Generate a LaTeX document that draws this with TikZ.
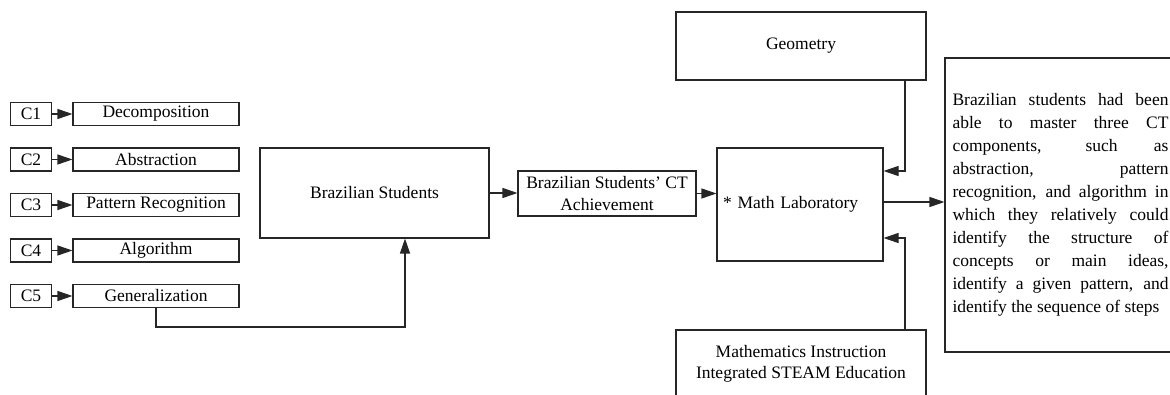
\documentclass[tikz,border=0pt]{standalone}
\usepackage{fontspec}
\setmainfont{Liberation Serif}
\usetikzlibrary{arrows.meta}
\begin{document}
\begin{tikzpicture}[x=1pt,y=-1pt,
  every node/.style={font=\fontsize{17.5}{23}\selectfont},
  box/.style={draw=black!85, line width=1.1pt, inner sep=0pt, align=center},
  arr/.style={draw=black!85, line width=1.1pt, -{Triangle[length=15pt,width=10pt]}}]
\useasboundingbox (0,0) rectangle (1170,395);

% competence labels and CT components
\foreach \i/\lab/\y in {1/Decomposition/114, 2/Abstraction/159.5, 3/Pattern Recognition/205, 4/Algorithm/250.5, 5/Generalization/296}{
  \node[box, minimum width=41, minimum height=23] (c\i) at (31,\y) {C\i};
  \node[box, minimum width=166, minimum height=23] (k\i) at (156,\y) {\lab};
  \draw[arr] (c\i.east) -- (k\i.west);
}

% main chain
\node[box, minimum width=229, minimum height=90] (bs) at (374.5,193) {Brazilian Students};
\node[box, minimum width=178, minimum height=45] (ach) at (607,193.5) {Brazilian Students’ CT\\[-1pt]Achievement};
\node[box, minimum width=166, minimum height=113, text width=154, inner xsep=6, align=left] (ml) at (800,204.5) {* Math Laboratory};
\node[box, minimum width=250, minimum height=68] (geo) at (801,46) {Geometry};
\node[box, minimum width=250, minimum height=68] (mi) at (801,364) {Mathematics Instruction\\[-2pt]Integrated STEAM Education};
\node[box, minimum width=231, minimum height=294, text width=216, align=justify] (rb) at (1060.5,205)
  {Brazilian students had been\linebreak
   able to master three CT\linebreak
   components, such as\linebreak
   abstraction, pattern\linebreak
   recognition, and algorithm in\linebreak
   which they relatively could\linebreak
   identify the structure of\linebreak
   concepts or main ideas,\linebreak
   identify a given pattern, and\linebreak
   identify the sequence of steps\par};

% connectors
\coordinate (j1) at (405,327);
\draw[arr] (k5.south) |- (j1) -- (j1 |- bs.south);
\draw[arr] (bs.east) -- (bs.east -| ach.west);
\draw[arr] (ach.east) -- (ach.east -| ml.west);
\coordinate (g1) at (905,171);
\draw[arr] (geo.south -| g1) -- (g1) -- (g1 -| ml.east);
\coordinate (m1) at (905,238);
\draw[arr] (mi.north -| m1) -- (m1) -- (m1 -| ml.east);
\coordinate (r1) at (883,202);
\draw[arr] (r1 -| ml.east) -- (r1 -| rb.west);
\end{tikzpicture}
\end{document}
